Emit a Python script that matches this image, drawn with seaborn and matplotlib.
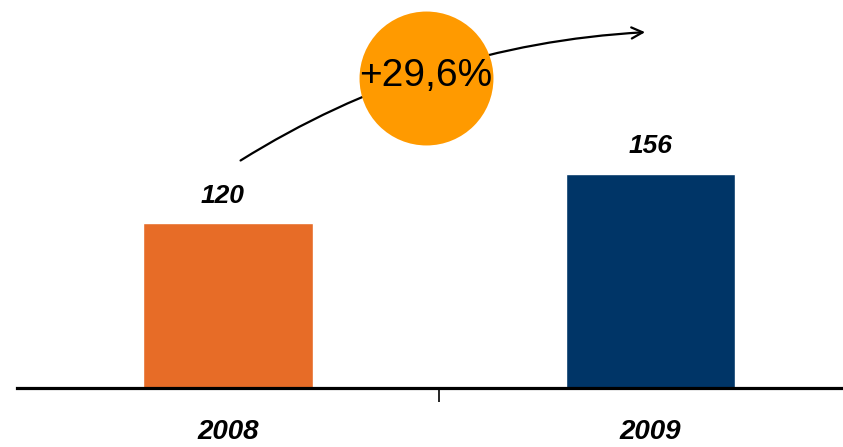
import numpy as np
import pandas as pd
import matplotlib
matplotlib.use("Agg")
import matplotlib.pyplot as plt
import seaborn as sns
from matplotlib.patches import FancyArrowPatch

years = ["2008", "2009"]
values = [120, 156]
bar_colors = ["#E76C27", "#003567"]
growth_label = "+29,6%"

df = pd.DataFrame({"year": years, "value": values})

sns.set_style("white")
plt.rcParams["font.family"] = ["Liberation Sans", "DejaVu Sans"]
plt.rcParams["text.color"] = "black"
plt.rcParams["xtick.color"] = "black"
plt.rcParams["xtick.labelcolor"] = "black"

fig = plt.figure(figsize=(8.43, 4.47), dpi=100)
ax = fig.add_axes([0, 0, 1, 1])

sns.barplot(data=df, x="year", y="value", hue="year", palette=bar_colors,
            width=0.402, legend=False, ax=ax, saturation=1)

ax.set_xlim(-0.54, 1.456)
ax.set_ylim(-42.9, 282.2)

# value labels
for i, v in enumerate(values):
    ax.annotate(str(v), (i, v), xytext=(-4 if i == 0 else 0, 11), textcoords="offset points",
                ha="center", va="bottom", fontsize=19, fontweight="bold", style="italic",
                color="black")

# axis line & ticks
for s in ["top", "right", "left"]:
    ax.spines[s].set_visible(False)
ax.spines["bottom"].set_position(("data", 0))
ax.spines["bottom"].set_linewidth(2.3)
ax.spines["bottom"].set_color("black")
ax.spines["bottom"].set_bounds(-0.5, 1.5)
ax.set_yticks([])
ax.set_xticks([0, 1], labels=years)
ax.tick_params(axis="x", which="major", length=0, pad=22, labelsize=20, labelcolor="black")
for lab in ax.get_xticklabels():
    lab.set_fontweight("bold")
    lab.set_style("italic")
ax.set_xticks([0.5], minor=True)
ax.tick_params(axis="x", which="minor", bottom=True, length=10, width=1.2,
               direction="out", color="black")
ax.set_xlabel("")
ax.set_ylabel("")

# growth arrow and bubble
arrow = FancyArrowPatch((0.024, 164.4), (0.994, 258.9), connectionstyle="arc3,rad=-0.13",
                        arrowstyle="->,head_length=8,head_width=4", lw=1.6, color="black",
                        zorder=3)
ax.add_patch(arrow)
ax.scatter([0.469], [225.5], s=9300, color="#FF9A00", zorder=4, linewidths=0)
ax.text(0.469, 227, growth_label, ha="center", va="center", fontsize=28, zorder=5,
        color="black")

fig.savefig("out.png", dpi=100)
